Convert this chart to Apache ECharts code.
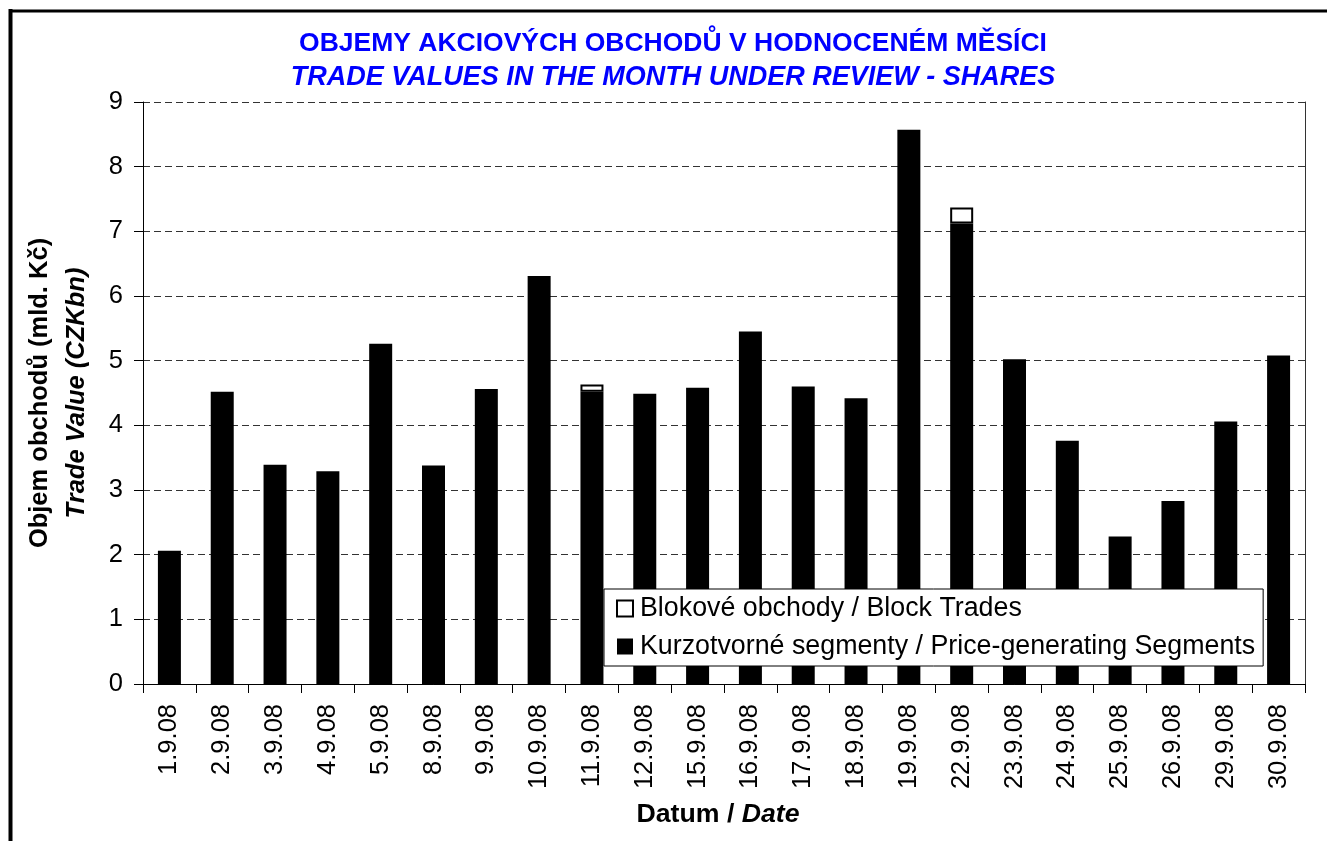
<!DOCTYPE html>
<html>
<head>
<meta charset="utf-8">
<script src="https://cdn.jsdelivr.net/npm/echarts@6/dist/echarts.min.js"></script>
<style>
	html, body { margin: 0; padding: 0; background: #fff; }
	#chart { width: 1327px; height: 841px; }
</style>
</head>
<body>
<div id="chart"></div>
<script>
var categories = ['1.9.08', '2.9.08', '3.9.08', '4.9.08', '5.9.08', '8.9.08', '9.9.08', '10.9.08', '11.9.08', '12.9.08', '15.9.08',
	'16.9.08', '17.9.08', '18.9.08', '19.9.08', '22.9.08', '23.9.08', '24.9.08', '25.9.08', '26.9.08', '29.9.08', '30.9.08'];

// Kurzotvorné segmenty / Price-generating Segments (mld. Kč)
var priceSegments = [2.06, 4.52, 3.39, 3.29, 5.26, 3.38, 4.56, 6.31, 4.52, 4.49, 4.58,
	5.45, 4.60, 4.42, 8.57, 7.12, 5.02, 3.76, 2.28, 2.83, 4.06, 5.08];

// Blokové obchody / Block Trades (mld. Kč), null = none that day
var blockTrades = [null, null, null, null, null, null, null, null, 0.11, null, null,
	null, null, null, null, 0.25, null, null, null, null, null, null];

var yTicks = [0, 1, 2, 3, 4, 5, 6, 7, 8, 9];

var FONT = 'Liberation Sans, Arial, sans-serif';
var chart = echarts.init(document.getElementById('chart'));

chart.setOption({
	backgroundColor: '#fff',
	animation: false,
	title: [
		{
			text: 'OBJEMY AKCIOVÝCH OBCHODŮ V HODNOCENÉM MĚSÍCI',
			left: 668,
			top: 25,
			textAlign: 'center',
			textStyle: { color: '#0000ff', fontFamily: FONT, fontSize: 26.5, fontWeight: 'bold' }
		},
		{
			text: 'TRADE VALUES IN THE MONTH UNDER REVIEW - SHARES',
			left: 668,
			top: 59,
			textAlign: 'center',
			textStyle: { color: '#0000ff', fontFamily: FONT, fontSize: 27, fontWeight: 'bold', fontStyle: 'italic' }
		}
	],
	legend: {
		orient: 'vertical',
		left: 604,
		top: 589,
		padding: [6, 8, 6, 12],
		itemGap: 11,
		itemWidth: 16,
		itemHeight: 16,
		backgroundColor: '#fff',
		borderColor: '#000',
		borderWidth: 1,
		textStyle: { color: '#000', fontFamily: FONT, fontSize: 26.8, padding: [0, 0, 0, 2] },
		data: [
			{ name: 'Blokové obchody / Block Trades', icon: 'rect', itemStyle: { color: '#fff', borderColor: '#000', borderWidth: 2 } },
			{ name: 'Kurzotvorné segmenty / Price-generating Segments', icon: 'rect', itemStyle: { color: '#000', borderWidth: 0 } }
		]
	},
	grid: {
		left: 143,
		right: 22,
		top: 102,
		bottom: 157,
		containLabel: false
	},
	xAxis: {
		type: 'category',
		data: categories,
		boundaryGap: true,
		name: '{b|Datum / }{i|Date}',
		nameLocation: 'middle',
		nameGap: 117,
		nameTextStyle: {
			padding: [0, 12, 0, 0],
			rich: {
				b: { fontFamily: FONT, fontSize: 26.7, fontWeight: 'bold', color: '#000' },
				i: { fontFamily: FONT, fontSize: 26.7, fontWeight: 'bold', fontStyle: 'italic', color: '#000' }
			}
		},
		axisLine: { lineStyle: { color: '#000', width: 1 } },
		axisTick: { show: true, length: 9, lineStyle: { color: '#000' } },
		axisLabel: {
			rotate: 90,
			interval: 0,
			margin: 20,
			color: '#000',
			fontFamily: FONT,
			fontSize: 25.5
		}
	},
	yAxis: [
		{
			type: 'value',
			min: yTicks[0],
			max: yTicks[yTicks.length - 1],
			interval: 1,
			axisLine: { show: true, lineStyle: { color: '#000', width: 1 } },
			axisTick: { show: true, length: 9, lineStyle: { color: '#000' } },
			axisLabel: { margin: 20, color: '#000', fontFamily: FONT, fontSize: 25.5 },
			splitLine: { show: true, lineStyle: { color: '#333', width: 1, type: [7, 4] } }
		},
		{
			type: 'value',
			position: 'right',
			min: 0,
			max: 9,
			interval: 1,
			axisLine: { show: true, lineStyle: { color: '#333', width: 1 } },
			axisTick: { show: false },
			axisLabel: { show: false },
			splitLine: { show: false }
		}
	],
	graphic: [
		{
			type: 'line',
			shape: { x1: 10.5, y1: 9, x2: 10.5, y2: 841 },
			style: { stroke: '#000', lineWidth: 4 }
		},
		{
			type: 'line',
			shape: { x1: 9, y1: 11, x2: 1327, y2: 11 },
			style: { stroke: '#000', lineWidth: 3 }
		},
		{
			type: 'text',
			x: 58,
			y: 393,
			rotation: Math.PI / 2,
			style: {
				text: '{a|Objem obchodů (mld. Kč)}\n{b|Trade Value (CZKbn)}',
				align: 'center',
				verticalAlign: 'middle',
				rich: {
					a: { fontFamily: FONT, fontSize: 25.5, fontWeight: 'bold', fill: '#000', lineHeight: 37 },
					b: { fontFamily: FONT, fontSize: 25.5, fontWeight: 'bold', fontStyle: 'italic', fill: '#000', lineHeight: 37 }
				}
			}
		}
	],
	series: [
		{
			name: 'Kurzotvorné segmenty / Price-generating Segments',
			type: 'bar',
			stack: 'total',
			barWidth: 23,
			data: priceSegments,
			itemStyle: { color: '#000' }
		},
		{
			name: 'Blokové obchody / Block Trades',
			type: 'bar',
			stack: 'total',
			barWidth: 23,
			data: blockTrades,
			itemStyle: { color: '#fff', borderColor: '#000', borderWidth: 2 }
		}
	]
});
</script>
</body>
</html>
